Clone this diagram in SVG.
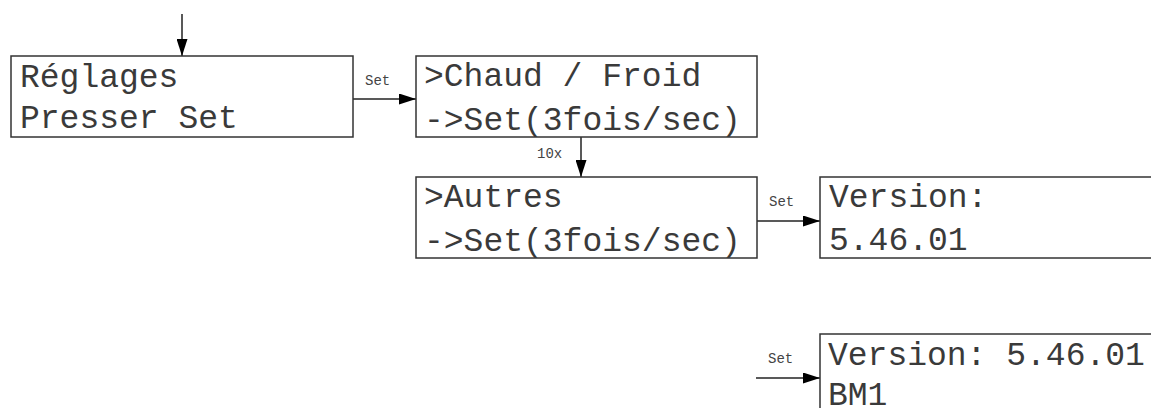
<svg xmlns="http://www.w3.org/2000/svg" width="1151" height="408" viewBox="0 0 1151 408">
<style>
.box{fill:#fff;stroke:#333;stroke-width:1.5}
.t{font-family:"Liberation Mono","Courier New",monospace;font-size:33px;fill:#3a3a3a}
.s{font-family:"Liberation Mono","Courier New",monospace;font-size:14px;fill:#444}
.c{stroke:#222;stroke-width:1.5;fill:none;marker-end:url(#ah)}
</style>
<defs>
<marker id="ah" markerWidth="17" markerHeight="11" refX="17" refY="5.5" orient="auto" markerUnits="userSpaceOnUse">
<path d="M0,0 L17,5.5 L0,11 Z" fill="#000"/>
</marker>
</defs>
<rect width="1151" height="408" fill="#fff"/>
<g id="connectors">
<line class="c" x1="182" y1="14" x2="182" y2="56"/>
<line class="c" x1="353" y1="99" x2="416" y2="99"/>
<text class="s" x="365" y="85">Set</text>
<line class="c" x1="581" y1="137" x2="581" y2="177"/>
<text class="s" x="537" y="158">10x</text>
<line class="c" x1="757" y1="221" x2="820" y2="221"/>
<text class="s" x="769" y="206">Set</text>
<line class="c" x1="756" y1="378" x2="820" y2="378"/>
<text class="s" x="768" y="363">Set</text>
</g>
<g id="n1">
<rect class="box" x="11" y="56" width="342" height="81"/>
<text class="t" x="20" y="87">Réglages</text>
<text class="t" x="20" y="128">Presser Set</text>
</g>
<g id="n2">
<rect class="box" x="416" y="56" width="341" height="81"/>
<text class="t" x="424" y="86">&gt;Chaud / Froid</text>
<text class="t" x="424" y="130">-&gt;Set(3fois/sec)</text>
</g>
<g id="n3">
<rect class="box" x="416" y="177" width="341" height="81"/>
<text class="t" x="424" y="207">&gt;Autres</text>
<text class="t" x="424" y="251">-&gt;Set(3fois/sec)</text>
</g>
<g id="n4">
<rect class="box" x="820" y="177" width="340" height="81"/>
<text class="t" x="829" y="207">Version:</text>
<text class="t" x="829" y="250">5.46.01</text>
</g>
<g id="n5">
<rect class="box" x="820" y="334" width="340" height="90"/>
<text class="t" x="828" y="365">Version: 5.46.01</text>
<text class="t" x="828" y="405">BM1</text>
</g>
</svg>
